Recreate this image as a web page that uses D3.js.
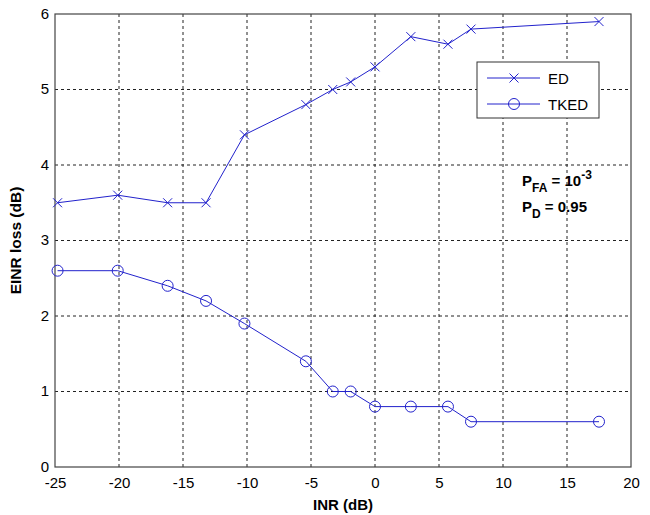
<!DOCTYPE html>
<html>
<head>
<meta charset="utf-8">
<script src="https://cdn.jsdelivr.net/npm/d3@7"></script>
<style>
  body { margin: 0; background: #fff; }
  svg { font-family: 'Liberation Sans', Arial, sans-serif; }
</style>
</head>
<body>
<div id="chart"></div>
<script>
// INR (dB) values
const inr = [-24.8, -20.1, -16.2, -13.2, -10.2, -5.4, -3.3, -1.9, 0, 2.8, 5.7, 7.5, 17.5];
// EINR loss (dB)
const edLoss = [3.5, 3.6, 3.5, 3.5, 4.4, 4.8, 5.0, 5.1, 5.3, 5.7, 5.6, 5.8, 5.9];
const tkedLoss = [2.6, 2.6, 2.4, 2.2, 1.9, 1.4, 1.0, 1.0, 0.8, 0.8, 0.8, 0.6, 0.6];
const xTicks = [-25, -20, -15, -10, -5, 0, 5, 10, 15, 20];
const yTicks = [0, 1, 2, 3, 4, 5, 6];
const seriesNames = ['ED', 'TKED'];

const width = 650, height = 515;
const margin = { top: 14, right: 19, bottom: 48, left: 55 };
const lineColor = '#2222cc';

const svg = d3.select('#chart').append('svg')
  .attr('width', width)
  .attr('height', height);

const x = d3.scaleLinear().domain([-25, 20]).range([margin.left, width - margin.right]);
const y = d3.scaleLinear().domain([0, 6]).range([height - margin.bottom, margin.top]);

// grid lines (dotted)
svg.append('g')
  .selectAll('line')
  .data(xTicks.slice(1, -1))
  .join('line')
  .attr('x1', (d) => x(d)).attr('x2', (d) => x(d))
  .attr('y1', y(0)).attr('y2', y(6))
  .attr('stroke', '#222')
  .attr('stroke-width', 1)
  .attr('stroke-dasharray', '3,3');
svg.append('g')
  .selectAll('line')
  .data(yTicks.slice(1, -1))
  .join('line')
  .attr('x1', x(-25)).attr('x2', x(20))
  .attr('y1', (d) => y(d)).attr('y2', (d) => y(d))
  .attr('stroke', '#222')
  .attr('stroke-width', 1)
  .attr('stroke-dasharray', '3,3');

// axes
const fmt = (d) => String(d);
const xAxis = svg.append('g')
  .attr('transform', `translate(0,${y(0)})`)
  .call(d3.axisBottom(x).tickValues(xTicks).tickFormat(fmt).tickSize(0).tickPadding(10));
const yAxis = svg.append('g')
  .attr('transform', `translate(${x(-25)},0)`)
  .call(d3.axisLeft(y).tickValues(yTicks).tickFormat(fmt).tickSize(0).tickPadding(6));
[xAxis, yAxis].forEach((g) => {
  g.select('.domain').remove();
  g.selectAll('text').attr('font-size', '15px').attr('fill', '#000')
    .attr('font-family', "'Liberation Sans', Arial, sans-serif");
});
yAxis.selectAll('text').attr('dy', '0.28em');

// plot box
svg.append('rect')
  .attr('x', x(-25)).attr('y', y(6))
  .attr('width', x(20) - x(-25)).attr('height', y(0) - y(6))
  .attr('fill', 'none')
  .attr('stroke', '#444')
  .attr('stroke-width', 1.2);

const line = d3.line()
  .x((d) => x(d[0]))
  .y((d) => y(d[1]));

const edData = inr.map((v, i) => [v, edLoss[i]]);
const tkedData = inr.map((v, i) => [v, tkedLoss[i]]);

function crossPath(cx, cy, r) {
  return `M${cx - r},${cy - r}L${cx + r},${cy + r}M${cx - r},${cy + r}L${cx + r},${cy - r}`;
}

svg.append('path')
  .datum(edData)
  .attr('d', line)
  .attr('fill', 'none')
  .attr('stroke', lineColor)
  .attr('stroke-width', 1);
svg.append('g')
  .selectAll('path')
  .data(edData)
  .join('path')
  .attr('d', (d) => crossPath(x(d[0]), y(d[1]), 4.5))
  .attr('stroke', lineColor)
  .attr('stroke-width', 1);

svg.append('path')
  .datum(tkedData)
  .attr('d', line)
  .attr('fill', 'none')
  .attr('stroke', lineColor)
  .attr('stroke-width', 1);
svg.append('g')
  .selectAll('circle')
  .data(tkedData)
  .join('circle')
  .attr('cx', (d) => x(d[0]))
  .attr('cy', (d) => y(d[1]))
  .attr('r', 5.5)
  .attr('fill', 'none')
  .attr('stroke', lineColor)
  .attr('stroke-width', 1);

// axis labels
svg.append('text')
  .attr('x', (x(-25) + x(20)) / 2)
  .attr('y', 510)
  .attr('text-anchor', 'middle')
  .attr('font-size', '15px')
  .attr('font-weight', 'bold')
  .text('INR (dB)');
svg.append('text')
  .attr('transform', `translate(21,${(y(0) + y(6)) / 2}) rotate(-90)`)
  .attr('text-anchor', 'middle')
  .attr('font-size', '15.5px')
  .attr('font-weight', 'bold')
  .text('EINR loss (dB)');

// legend
const legend = svg.append('g').attr('transform', 'translate(477,62)');
legend.append('rect')
  .attr('width', 122).attr('height', 56)
  .attr('fill', '#fff')
  .attr('stroke', '#333')
  .attr('stroke-width', 1);
seriesNames.forEach((name, i) => {
  const ly = 16 + i * 26;
  legend.append('line')
    .attr('x1', 10).attr('x2', 63)
    .attr('y1', ly).attr('y2', ly)
    .attr('stroke', lineColor);
  if (i === 0) {
    legend.append('path').attr('d', crossPath(37, ly, 4.5)).attr('stroke', lineColor);
  } else {
    legend.append('circle').attr('cx', 37).attr('cy', ly).attr('r', 5.5)
      .attr('fill', 'none').attr('stroke', lineColor);
  }
  legend.append('text')
    .attr('x', 71).attr('y', ly + 5.5)
    .attr('font-size', '15px')
    .text(name);
});

// annotation
const ann = svg.append('text')
  .attr('x', 522).attr('y', 186)
  .attr('font-size', '15px')
  .attr('font-weight', 'bold');
ann.append('tspan').text('P');
ann.append('tspan').attr('dy', 6).attr('font-size', '12px').text('FA');
ann.append('tspan').attr('dy', -6).text(' = 10');
ann.append('tspan').attr('dy', -7).attr('font-size', '12px').text('-3');

const ann2 = svg.append('text')
  .attr('x', 522).attr('y', 212)
  .attr('font-size', '15px')
  .attr('font-weight', 'bold');
ann2.append('tspan').text('P');
ann2.append('tspan').attr('dy', 6).attr('font-size', '12px').text('D');
ann2.append('tspan').attr('dy', -6).text(' = 0.95');
</script>
</body>
</html>
